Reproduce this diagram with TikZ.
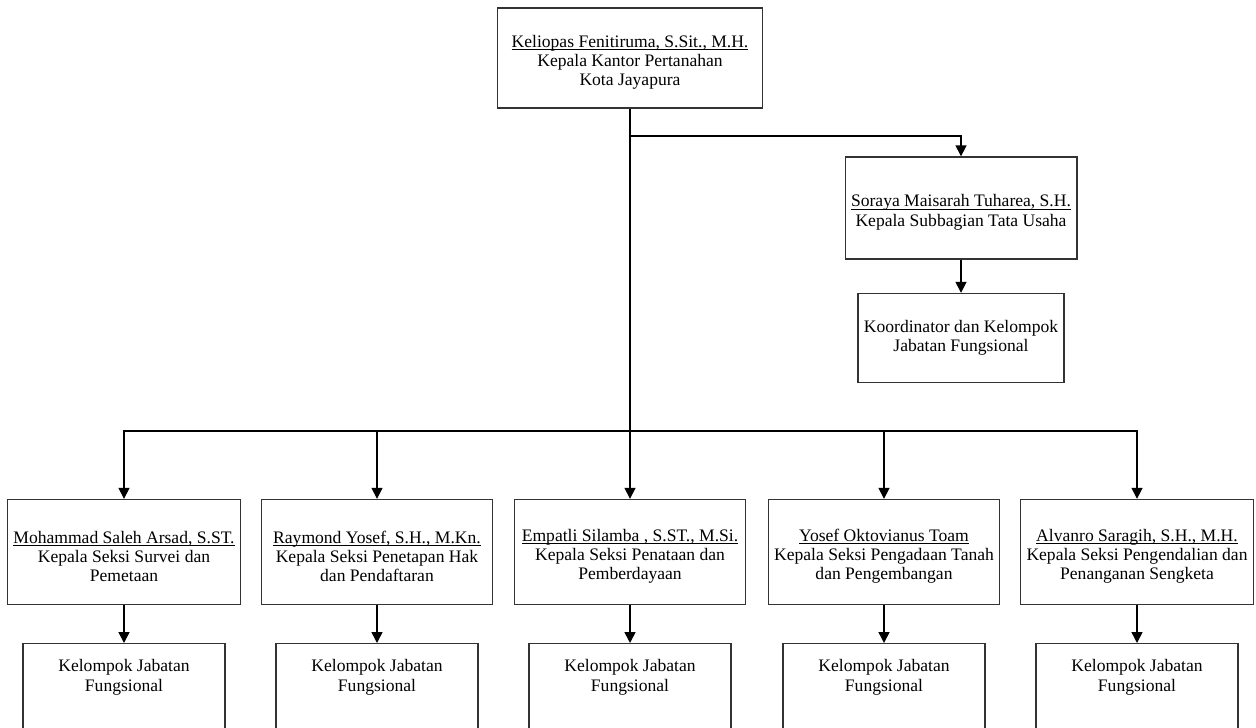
\documentclass[tikz,border=0pt]{standalone}
\usepackage{fontspec}
\setmainfont{Liberation Serif}
\usetikzlibrary{arrows.meta}

\newcommand{\leaftext}[1]{\parbox[t][2.4cm][t]{3.8cm}{\centering #1}}
\newcommand{\pname}[1]{\rule{0pt}{12pt}\underline{\smash{#1}}}

\begin{document}
\begin{tikzpicture}[x=0.02cm, y=-0.02cm, >={Triangle[length=0.22cm,width=0.22cm]},
    every node/.style={draw=black!80, line width=0.8pt, align=center, font=\fontsize{10}{11}\selectfont},
    headbox/.style={minimum width=5.3cm, minimum height=2cm},
    staffbox/.style={minimum width=4.62cm, minimum height=2.04cm},
    seksibox/.style={minimum width=4.62cm, minimum height=2.1cm},
    koorbox/.style={minimum width=3.94cm, minimum height=1.78cm},
    leafbox/.style={minimum width=3.94cm, anchor=north, inner ysep=9pt},
    link/.style={line width=0.9pt}]
      \clip (0,0) rectangle (1256,727);

      % Head of office
      \node[headbox] (Head) at (630,58) {\pname{Keliopas Fenitiruma, S.Sit., M.H.}\\Kepala Kantor Pertanahan\\Kota Jayapura};

      % Administration branch
      \node[staffbox] (TU) at (961,208) {\pname{Soraya Maisarah Tuharea, S.H.}\\Kepala Subbagian Tata Usaha};
      \node[koorbox] (Koor) at (961,338) {Koordinator dan Kelompok\\Jabatan Fungsional};

      % Sections
      \node[seksibox] (S1) at (124,552) {\pname{Mohammad Saleh Arsad, S.ST.}\\Kepala Seksi Survei dan\\Pemetaan};
      \node[seksibox] (S2) at (377,552) {\pname{Raymond Yosef, S.H., M.Kn.}\\Kepala Seksi Penetapan Hak\\dan Pendaftaran};
      \node[seksibox] (S3) at (630,552) {\pname{Empatli Silamba , S.ST., M.Si.}\\Kepala Seksi Penataan dan\\Pemberdayaan};
      \node[seksibox] (S4) at (884,552) {\pname{Yosef Oktovianus Toam}\\Kepala Seksi Pengadaan Tanah\\dan Pengembangan};
      \node[seksibox] (S5) at (1137,552) {\pname{Alvanro Saragih, S.H., M.H.}\\Kepala Seksi Pengendalian dan\\Penanganan Sengketa};

      % Functional groups
      \foreach \i/\x in {1/124, 2/377, 3/630, 4/884, 5/1137}
        \node[leafbox] (K\i) at (\x,643) {\leaftext{Kelompok Jabatan\\Fungsional}};

      % Junctions
      \coordinate (Split) at (630,136);
      \coordinate (Bus) at (630,431);

      % Arrows
      \draw[link] (Head) -- (Bus);
      \draw[link,->] (Split) -| (TU);
      \draw[link,->] (TU) -- (Koor);
      \foreach \i in {1,...,5} {
        \draw[link,->] (Bus) -| (S\i);
        \draw[link,->] (S\i) -- (K\i);
      }
    \end{tikzpicture}
\end{document}
